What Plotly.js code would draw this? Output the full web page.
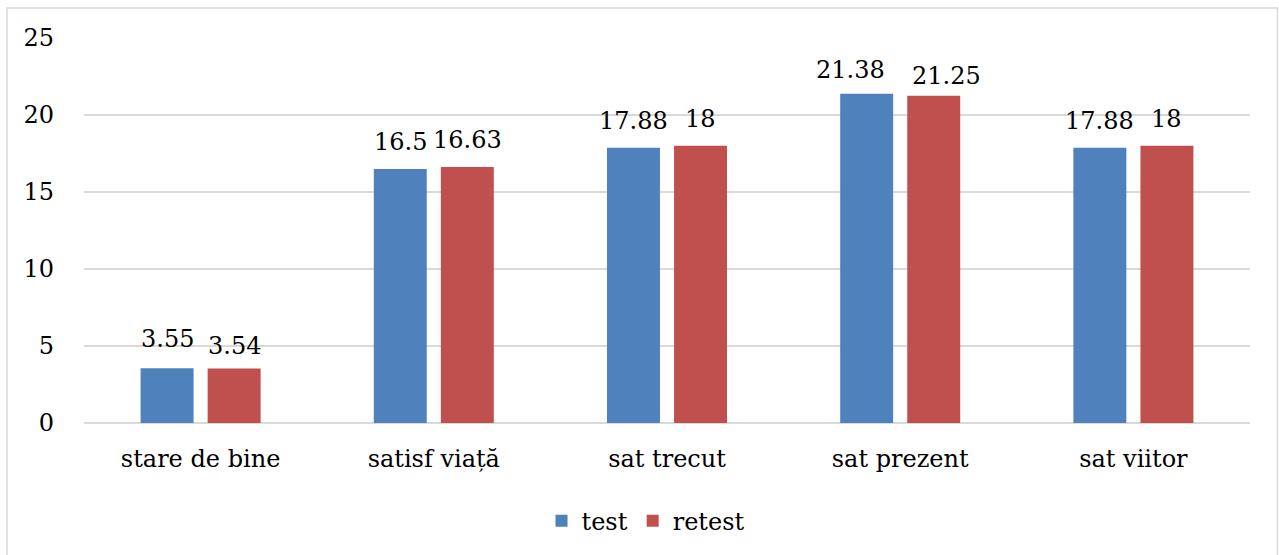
<!DOCTYPE html>
<html>
<head>
<meta charset="utf-8">
<script src="https://cdn.plot.ly/plotly-3.0.1.min.js"></script>
<style>
  html, body { margin: 0; padding: 0; background: #ffffff; }
  #chart { width: 1279px; height: 555px; }
</style>
</head>
<body>
<div id="chart"></div>
<script>
// Scale categories and mean scores for the two measurement moments
const categories = ['stare de bine', 'satisf viață', 'sat trecut', 'sat prezent', 'sat viitor'];
const testValues = [3.55, 16.5, 17.88, 21.38, 17.88];
const retestValues = [3.54, 16.63, 18, 21.25, 18];
const seriesNames = ['test', 'retest'];
const yTicks = [0, 5, 10, 15, 20, 25];

const FONT = 'DejaVu Serif, serif';
const FS = 24;
const GRID = '#d9d9d9';
const W = 1279, H = 555;
const MARGIN = { l: 84, r: 29, t: 38, b: 132 };
const BARGAP = 0.425;
const BARGROUPGAP = 0.21;

// horizontal offset (px) of each bar centre from its category centre
const plotW = W - MARGIN.l - MARGIN.r;
const slotW = plotW / categories.length * (1 - BARGAP) / 2;
const barOffset = slotW / 2;

// small per-label pixel nudges [dx, dy] so neighbouring labels don't collide
const testNudge = [[0, 2], [0, 0], [0, 0], [-16, -3], [0, 0]];
const retestNudge = [[0, -5], [0, 0], [0, 0], [13, -7], [0, 0]];

function barTrace(name, values, color) {
  return {
    type: 'bar',
    name: name,
    x: categories,
    y: values,
    cliponaxis: false,
    marker: { color: color, line: { width: 0 } },
    hoverinfo: 'x+y+name'
  };
}

const data = [
  barTrace(seriesNames[0], testValues, '#4f81bd'),
  barTrace(seriesNames[1], retestValues, '#c0504d')
];

// value labels above each bar
function valueLabels(values, shift, nudge) {
  return values.map((v, i) => ({
    x: categories[i],
    y: v,
    xref: 'x', yref: 'y',
    text: String(v),
    showarrow: false,
    xanchor: 'center',
    yanchor: 'bottom',
    xshift: shift + nudge[i][0],
    yshift: 11 + nudge[i][1],
    font: { family: FONT, size: FS, color: '#000000' }
  }));
}

const layout = {
  width: W,
  height: H,
  margin: Object.assign({ autoexpand: false }, MARGIN),
  paper_bgcolor: '#ffffff',
  plot_bgcolor: '#ffffff',
  font: { family: FONT, size: FS, color: '#000000' },
  barmode: 'group',
  bargap: BARGAP,
  bargroupgap: BARGROUPGAP,
  showlegend: true,
  legend: {
    orientation: 'h',
    x: 0.482, xanchor: 'center',
    y: -0.255, yanchor: 'middle',
    font: { family: FONT, size: FS, color: '#000000' },
    itemwidth: 30,
    traceorder: 'normal'
  },
  xaxis: {
    type: 'category',
    showgrid: false,
    showline: false,
    zeroline: false,
    ticks: '',
    ticklabelstandoff: 19,
    tickfont: { family: FONT, size: FS, color: '#000000' }
  },
  yaxis: {
    range: [0, 25],
    tickvals: yTicks,
    ticktext: yTicks.map(String),
    showgrid: true,
    gridcolor: GRID,
    gridwidth: 1.5,
    zeroline: true,
    zerolinecolor: GRID,
    zerolinewidth: 1.5,
    showline: false,
    ticks: '',
    ticklabelstandoff: 29,
    tickfont: { family: FONT, size: FS, color: '#000000' }
  },
  annotations: valueLabels(testValues, -barOffset, testNudge)
    .concat(valueLabels(retestValues, barOffset, retestNudge)),
  shapes: [{
    type: 'rect',
    xref: 'paper', yref: 'paper',
    x0: (7 - MARGIN.l) / plotW, x1: (1277.5 - MARGIN.l) / plotW,
    y0: -0.36, y1: (H - MARGIN.b - 8) / (H - MARGIN.t - MARGIN.b),
    line: { color: GRID, width: 1.5 },
    fillcolor: 'rgba(0,0,0,0)',
    layer: 'below'
  }]
};

Plotly.newPlot('chart', data, layout, { displayModeBar: false, staticPlot: true });
</script>
</body>
</html>
